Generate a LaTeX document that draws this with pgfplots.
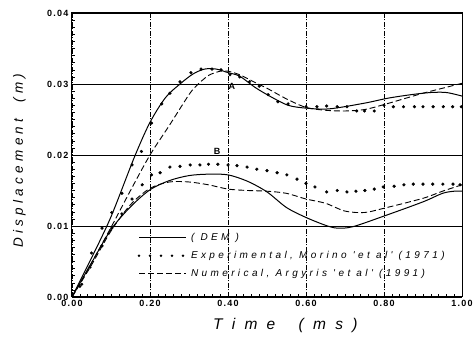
\documentclass[border=0pt]{standalone}
\usepackage{fontspec}
\setmainfont{Liberation Sans}
\newfontfamily\xspaced[LetterSpace=60]{Liberation Sans}
\newfontfamily\yspaced[LetterSpace=32]{Liberation Sans}
\newfontfamily\tickspaced[LetterSpace=14]{Liberation Sans}
\newfontfamily\legspaced[LetterSpace=34]{Liberation Sans}
\usepackage{pgfplots}
\pgfplotsset{compat=1.18,
  linelegend/.style={legend image code/.code={\draw[##1] (0pt,0pt) -- (47pt,0pt); \path[draw=none,fill=none] (0pt,0pt) -- (50pt,0pt);}},
  dotlegend/.style={legend image code/.code={\foreach \i in {0,...,4} {\fill[black,draw=none] (\i*11pt,0pt) circle (1.4pt);} \path[draw=none,fill=none] (0pt,0pt) -- (50pt,0pt);}},
}
\begin{document}
\begin{tikzpicture}
\begin{axis}[
  name=ax,
  scale only axis, width=390pt, height=284pt,
  xmin=0, xmax=1, ymin=0, ymax=0.04,
  xtick={0,0.2,0.4,0.6,0.8,1.0},
  ytick={0,0.01,0.02,0.03,0.04},
  minor x tick num=9, minor y tick num=9,
  xticklabels={0.00,0.20,0.40,0.60,0.80,1.00},
  yticklabels={0.00,0.01,0.02,0.03,0.04},
  scaled y ticks=false,
  tick align=inside,
  major tick length=5pt, minor tick length=3pt,
  tick style={black, thin},
  ticklabel style={font=\tickspaced\bfseries\fontsize{9}{10}\selectfont},
  xtick pos=bottom, ytick pos=left,
  grid=major,
  x grid style={black, thin, dash pattern=on 5pt off 1.5pt on 1pt off 1.5pt},
  y grid style={black, thin, solid},
  axis line style={black, line width=1pt},
  xlabel={\xspaced\itshape\fontsize{15.5}{17}\selectfont Time\hspace{1.5em}(ms)},
  xlabel style={at={(axis description cs:0.547,-0.062)}, anchor=north},
  ylabel={\yspaced\itshape\fontsize{13.5}{15}\selectfont Displacement\hspace{1.2em}(m)},
  ylabel style={at={(axis description cs:-0.11,0.48)}, anchor=south},
  legend style={at={(axis cs:0.16,0.0096)}, anchor=north west, draw=none, fill=none,
    font=\legspaced\itshape\fontsize{10}{12}\selectfont, row sep=5.5pt,
    cells={anchor=west}},
]
% Upper DEM
\addplot[black, line width=1pt, smooth, tension=0.5, linelegend] coordinates {
(0,0) (0.05,0.0055) (0.1,0.0113) (0.16,0.0197) (0.2,0.0246) (0.24,0.0281) (0.277,0.0300) (0.31,0.0314) (0.34,0.0321) (0.37,0.0321) (0.4,0.0316) (0.43,0.0311) (0.47,0.0295) (0.51,0.0282) (0.554,0.0270) (0.6,0.0266) (0.66,0.0265) (0.75,0.0273) (0.81,0.0280) (0.87,0.0285) (0.92,0.0288) (0.96,0.0288) (1.0,0.0283)};
\addlegendentry{( DEM )}
% Upper experimental
\addplot[black, only marks, mark=*, mark size=1.4pt, dotlegend] coordinates {
(0.02,0.0015) (0.05,0.0062) (0.077,0.0097) (0.102,0.0119) (0.128,0.0146) (0.154,0.0186) (0.178,0.0205) (0.204,0.0245) (0.23,0.0272) (0.251,0.0287) (0.277,0.0303) (0.305,0.0316) (0.331,0.0321) (0.359,0.0321) (0.382,0.0320) (0.405,0.0313) (0.43,0.0310) (0.455,0.0303) (0.48,0.0297) (0.503,0.0285) (0.528,0.0275) (0.554,0.0272) (0.6,0.0268) (0.628,0.0268) (0.653,0.0269) (0.68,0.0268) (0.705,0.0268) (0.73,0.0262) (0.75,0.0262) (0.775,0.0262) (0.80,0.0270) (0.824,0.0268) (0.85,0.0268) (0.878,0.0268) (0.9,0.0268) (0.926,0.0268) (0.952,0.0268) (0.976,0.0268) (0.998,0.0268)};
\addlegendentry{Experimental, Morino 'et al' (1971)}
% Upper numerical
\addplot[black, line width=0.9pt, dash pattern=on 6pt off 3pt, smooth, tension=0.5, linelegend] coordinates {
(0,0) (0.05,0.0048) (0.1,0.0098) (0.15,0.0150) (0.2,0.0200) (0.25,0.0242) (0.3,0.0285) (0.32,0.0298) (0.35,0.0312) (0.38,0.0318) (0.4,0.0318) (0.43,0.0313) (0.47,0.0302) (0.5,0.0294) (0.55,0.0279) (0.6,0.0267) (0.65,0.0263) (0.7,0.0262) (0.75,0.0264) (0.8,0.0271) (0.85,0.0279) (0.9,0.0287) (0.95,0.0294) (1.0,0.0301)};
\addlegendentry{Numerical, Argyris 'et al' (1991)}
% Lower DEM
\addplot[black, line width=1pt, smooth, tension=0.5, forget plot] coordinates {
(0,0) (0.05,0.0048) (0.1,0.0095) (0.15,0.0127) (0.2,0.0151) (0.25,0.0164) (0.3,0.0171) (0.35,0.0173) (0.4,0.0172) (0.45,0.0163) (0.5,0.0148) (0.55,0.0126) (0.6,0.0112) (0.65,0.0101) (0.68,0.0097) (0.72,0.0099) (0.8,0.0114) (0.9,0.0134) (0.95,0.0146) (0.98,0.0149) (1.0,0.0149)};
% Lower experimental
\addplot[black, only marks, mark=*, mark size=1.4pt, forget plot] coordinates {
(0.025,0.0018) (0.046,0.0042) (0.077,0.0072) (0.102,0.0097) (0.128,0.0117) (0.154,0.0138) (0.18,0.0158) (0.204,0.0172) (0.226,0.0175) (0.251,0.0183) (0.277,0.0184) (0.303,0.0186) (0.328,0.0186) (0.35,0.0187) (0.374,0.0187) (0.4,0.0186) (0.423,0.0185) (0.449,0.0183) (0.474,0.0180) (0.5,0.0178) (0.526,0.0175) (0.551,0.0172) (0.577,0.0166) (0.6,0.0160) (0.623,0.0155) (0.653,0.0148) (0.68,0.0150) (0.705,0.0148) (0.728,0.0149) (0.751,0.0150) (0.775,0.0152) (0.798,0.0155) (0.826,0.0156) (0.851,0.0158) (0.875,0.0159) (0.9,0.0159) (0.925,0.0159) (0.951,0.0159) (0.977,0.0159) (0.995,0.0158)};
% Lower numerical
\addplot[black, line width=0.9pt, dash pattern=on 6pt off 3pt, smooth, tension=0.5, forget plot] coordinates {
(0,0) (0.05,0.0045) (0.1,0.0093) (0.15,0.0130) (0.2,0.0153) (0.25,0.0162) (0.3,0.0162) (0.35,0.0158) (0.4,0.0152) (0.45,0.0150) (0.5,0.0149) (0.55,0.0146) (0.6,0.0138) (0.65,0.0132) (0.7,0.0121) (0.75,0.0119) (0.8,0.0125) (0.9,0.0139) (0.95,0.0149) (1.0,0.0158)};
\node[font=\bfseries\fontsize{9}{10}\selectfont] at (axis cs:0.41,0.0297) {A};
\node[font=\bfseries\fontsize{9}{10}\selectfont] at (axis cs:0.372,0.0205) {B};
\end{axis}
\pgfresetboundingbox
\path[use as bounding box] ([xshift=-72pt,yshift=-44pt]ax.south west) rectangle ([xshift=12pt,yshift=13pt]ax.north east);
\end{tikzpicture}
\end{document}
